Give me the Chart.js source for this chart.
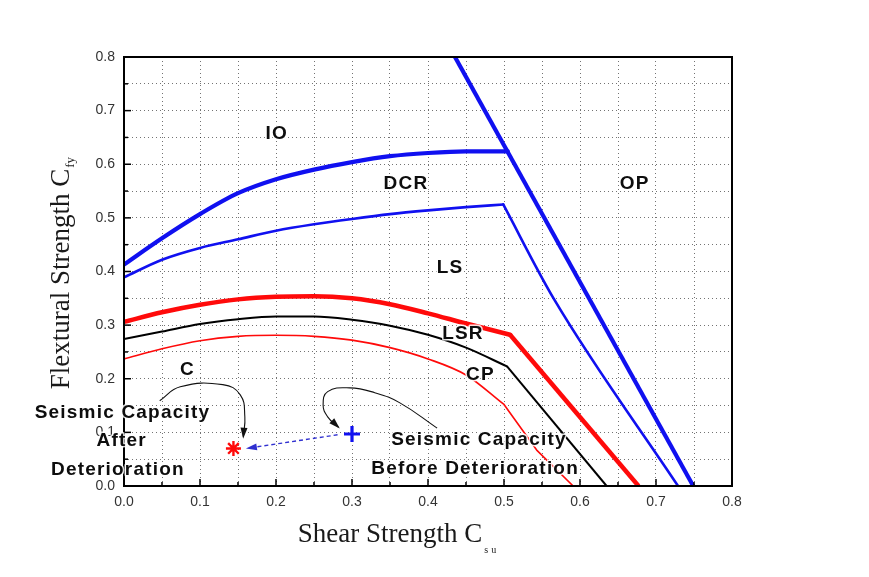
<!DOCTYPE html>
<html><head><meta charset="utf-8">
<script src="https://cdn.jsdelivr.net/npm/chart.js@4.4.1/dist/chart.umd.min.js"></script>
<style>html,body{margin:0;padding:0;background:#fff}#wrap{width:869px;height:577px;position:relative}</style>
</head><body><div id="wrap"><canvas id="c"></canvas></div>
<script>
// ---- tick labels ----
const xTickLabels = ['0.0','0.1','0.2','0.3','0.4','0.5','0.6','0.7','0.8'];
const yTickLabels = ['0.0','0.1','0.2','0.3','0.4','0.5','0.6','0.7','0.8'];

// ---- boundary curves (Shear Strength Csu -> Flextural Strength Cfy) ----
const ioCurveX  = [0, 0.05, 0.1, 0.15, 0.2, 0.25, 0.3, 0.35, 0.4, 0.45, 0.505];
const ioCurveY  = [0.413, 0.462, 0.507, 0.546, 0.572, 0.590, 0.604, 0.615, 0.621, 0.624, 0.624];
const opLineX   = [0.4355, 0.749];
const opLineY   = [0.8, 0];

const lsCurveX  = [0, 0.05, 0.1, 0.15, 0.2, 0.25, 0.3, 0.35, 0.4, 0.45, 0.499];
const lsCurveY  = [0.389, 0.422, 0.444, 0.460, 0.476, 0.488, 0.498, 0.507, 0.514, 0.520, 0.525];
const lsLineX   = [0.499, 0.566, 0.729];
const lsLineY   = [0.525, 0.348, 0];

const lsrCurveX = [0, 0.05, 0.1, 0.15, 0.2, 0.25, 0.3, 0.35, 0.4, 0.45, 0.508];
const lsrCurveY = [0.306, 0.324, 0.338, 0.348, 0.353, 0.354, 0.350, 0.339, 0.322, 0.303, 0.282];
const lsrLineX  = [0.508, 0.677];
const lsrLineY  = [0.282, 0];

const cpCurveX  = [0, 0.05, 0.1, 0.15, 0.2, 0.25, 0.3, 0.35, 0.4, 0.45, 0.504];
const cpCurveY  = [0.274, 0.288, 0.302, 0.311, 0.316, 0.316, 0.310, 0.299, 0.282, 0.258, 0.223];
const cpLineX   = [0.504, 0.635];
const cpLineY   = [0.223, 0];

const cCurveX   = [0, 0.05, 0.1, 0.15, 0.2, 0.25, 0.3, 0.35, 0.4, 0.45, 0.5];
const cCurveY   = [0.237, 0.256, 0.271, 0.279, 0.281, 0.279, 0.272, 0.258, 0.237, 0.207, 0.152];
const cLineX    = [0.5, 0.543, 0.591];
const cLineY    = [0.152, 0.067, 0];

// ---- seismic capacity points ----
const afterPoint  = {x: 0.144, y: 0.070};   // after deterioration (red star)
const beforePoint = {x: 0.300, y: 0.097};   // before deterioration (blue cross)

// ---- annotation arrows (data coordinates) ----
const moveArrowX   = [0.281, 0.163];
const moveArrowY   = [0.0955, 0.0705];
const afterArrowX  = [0.047, 0.074, 0.130, 0.153, 0.159, 0.157];
const afterArrowY  = [0.159, 0.185, 0.189, 0.170, 0.129, 0.092];
const beforeArrowX = [0.412, 0.363, 0.330, 0.297, 0.268, 0.262, 0.268, 0.282];
const beforeArrowY = [0.108, 0.155, 0.174, 0.183, 0.176, 0.151, 0.129, 0.110];

// ---- text annotations ----
const noteTexts = ['IO','DCR','OP','LS','LSR','CP','C','Seismic Capacity','After','Deterioration','Seismic Capacity','Before Deterioration'];
const noteX     = [0.201, 0.371, 0.672, 0.429, 0.446, 0.469, 0.0836, -0.002, -0.003, -0.008, 0.467, 0.462];
const noteY     = [0.657, 0.563, 0.564, 0.407, 0.283, 0.208, 0.217, 0.137, 0.085, 0.030, 0.086, 0.033];

const pts = (xs, ys) => xs.map((x, i) => ({x, y: ys[i]}));
const BLUE = '#1010f0', RED = '#ff0a0a';

function curve(xs, ys, color, w) {
  return {data: pts(xs, ys), showLine: true, borderColor: color, borderWidth: w, pointRadius: 0,
          cubicInterpolationMode: 'monotone', fill: false, borderCapStyle: 'round', borderJoinStyle: 'round'};
}
function straight(xs, ys, color, w) {
  return {data: pts(xs, ys), showLine: true, borderColor: color, borderWidth: w, pointRadius: 0,
          tension: 0, fill: false, borderCapStyle: 'butt', borderJoinStyle: 'round'};
}

const datasets = [
  curve(ioCurveX, ioCurveY, BLUE, 4.2),
  straight(opLineX, opLineY, BLUE, 4.2),
  curve(lsCurveX, lsCurveY, BLUE, 2.6),
  curve(lsLineX, lsLineY, BLUE, 2.6),
  curve(lsrCurveX, lsrCurveY, RED, 4.5),
  straight(lsrLineX, lsrLineY, RED, 4.5),
  curve(cpCurveX, cpCurveY, '#000', 2),
  straight(cpLineX, cpLineY, '#000', 2),
  curve(cCurveX, cCurveY, RED, 1.6),
  straight(cLineX, cLineY, RED, 1.6),
  {data: pts(moveArrowX, moveArrowY), showLine: true, borderColor: '#3030d0', borderWidth: 1.4,
   borderDash: [4, 3], pointRadius: 0, tension: 0, arrow: true},
  {data: pts(afterArrowX, afterArrowY), showLine: true, borderColor: '#111', borderWidth: 1.1,
   pointRadius: 0, tension: 0.45, arrow: true},
  {data: pts(beforeArrowX, beforeArrowY), showLine: true, borderColor: '#111', borderWidth: 1.1,
   pointRadius: 0, tension: 0.45, arrow: true},
  {data: [afterPoint], pointStyle: 'star', pointRadius: 7.5, borderColor: RED, borderWidth: 2.4, backgroundColor: RED},
  {data: [beforePoint], pointStyle: 'cross', pointRadius: 8, borderColor: BLUE, borderWidth: 3.2, backgroundColor: BLUE}
];

const deco = {
  id: 'deco',
  afterDatasetsDraw(chart) {
    const {ctx, chartArea: a, scales: {x, y}} = chart;
    ctx.save();
    // inward tick marks
    ctx.strokeStyle = '#000'; ctx.lineWidth = 1.5;
    x.ticks.forEach(t => {
      const p = x.getPixelForValue(t.value);
      const major = Math.round(t.value * 100) % 10 === 0;
      ctx.beginPath(); ctx.moveTo(p, a.bottom); ctx.lineTo(p, a.bottom - (major ? 7 : 4)); ctx.stroke();
    });
    y.ticks.forEach(t => {
      const p = y.getPixelForValue(t.value);
      const major = Math.round(t.value * 100) % 10 === 0;
      ctx.beginPath(); ctx.moveTo(a.left, p); ctx.lineTo(a.left + (major ? 7 : 4), p); ctx.stroke();
    });
    // frame
    ctx.lineWidth = 2;
    ctx.strokeRect(a.left, a.top, a.right - a.left, a.bottom - a.top);
    // arrowheads
    chart.data.datasets.forEach((ds, i) => {
      if (!ds.arrow) return;
      const el = chart.getDatasetMeta(i).data;
      const p1 = el[el.length - 2], p2 = el[el.length - 1];
      const ang = Math.atan2(p2.y - p1.y, p2.x - p1.x);
      const L = 9, W = 3.5;
      ctx.fillStyle = ds.borderColor;
      ctx.beginPath();
      ctx.moveTo(p2.x + Math.cos(ang) * 2, p2.y + Math.sin(ang) * 2);
      ctx.lineTo(p2.x - Math.cos(ang) * L - Math.sin(ang) * W, p2.y - Math.sin(ang) * L + Math.cos(ang) * W);
      ctx.lineTo(p2.x - Math.cos(ang) * L + Math.sin(ang) * W, p2.y - Math.sin(ang) * L - Math.cos(ang) * W);
      ctx.closePath(); ctx.fill();
    });
    // text annotations
    ctx.font = 'bold 19px "Liberation Sans", Arial, sans-serif';
    ctx.letterSpacing = '1.2px';
    ctx.textAlign = 'center'; ctx.textBaseline = 'middle';
    ctx.lineJoin = 'round';
    noteTexts.forEach((t, i) => {
      const px = x.getPixelForValue(noteX[i]), py = y.getPixelForValue(noteY[i]);
      ctx.strokeStyle = 'rgba(255,255,255,0.85)'; ctx.lineWidth = 3;
      ctx.strokeText(t, px, py);
      ctx.fillStyle = '#0d0d0d';
      ctx.fillText(t, px, py);
    });
    ctx.restore();
  },
  afterDraw(chart) {
    const {ctx} = chart;
    ctx.save();
    ctx.fillStyle = '#1a1a1a';
    // y axis title
    ctx.font = '27px "Liberation Serif", "Times New Roman", serif';
    const yt = 'Flextural Strength C';
    const yw = ctx.measureText(yt).width;
    ctx.translate(69, 279);
    ctx.rotate(-Math.PI / 2);
    ctx.textAlign = 'left'; ctx.textBaseline = 'alphabetic';
    ctx.fillText(yt, -yw / 2, 0);
    ctx.font = '13px "Liberation Serif", "Times New Roman", serif';
    ctx.fillText('fy', yw / 2 + 1, 5);
    ctx.restore();
    ctx.save();
    ctx.fillStyle = '#1a1a1a';
    ctx.font = '27px "Liberation Serif", "Times New Roman", serif';
    const xt = 'Shear Strength C';
    const xw = ctx.measureText(xt).width;
    const x0 = 390 - xw / 2;
    ctx.textAlign = 'left'; ctx.textBaseline = 'alphabetic';
    ctx.fillText(xt, x0, 542);
    ctx.font = '10px "Liberation Serif", "Times New Roman", serif';
    ctx.letterSpacing = '3px';
    ctx.fillText('su', x0 + xw + 2, 553);
    ctx.restore();
  }
};

const labelFor = (arr) => (v) => {
  const k = Math.round(v * 100);
  return k % 10 === 0 ? arr[k / 10] : '';
};

new Chart(document.getElementById('c'), {
  type: 'scatter',
  data: {datasets},
  options: {
    responsive: true, maintainAspectRatio: false, animation: false,
    layout: {padding: {top: 57, right: 137, left: 0, bottom: 0}},
    plugins: {legend: {display: false}, tooltip: {enabled: false}},
    scales: {
      x: {
        type: 'linear', min: 0, max: 0.8,
        afterFit: s => { s.height = 91; },
        ticks: {stepSize: 0.05, autoSkip: false, maxRotation: 0, padding: 8,
                color: '#333', font: {family: '"Liberation Sans", Arial, sans-serif', size: 14},
                callback: labelFor(xTickLabels)},
        grid: {color: 'rgba(0,0,0,0.55)', lineWidth: 1, drawTicks: false},
        border: {display: false, dash: [1, 3]}
      },
      y: {
        type: 'linear', min: 0, max: 0.8,
        afterFit: s => { s.width = 124; },
        ticks: {stepSize: 0.05, autoSkip: false, padding: 9,
                color: '#333', font: {family: '"Liberation Sans", Arial, sans-serif', size: 14},
                callback: labelFor(yTickLabels)},
        grid: {color: 'rgba(0,0,0,0.55)', lineWidth: 1, drawTicks: false},
        border: {display: false, dash: [1, 3]}
      }
    }
  },
  plugins: [deco]
});
</script>
</body></html>
